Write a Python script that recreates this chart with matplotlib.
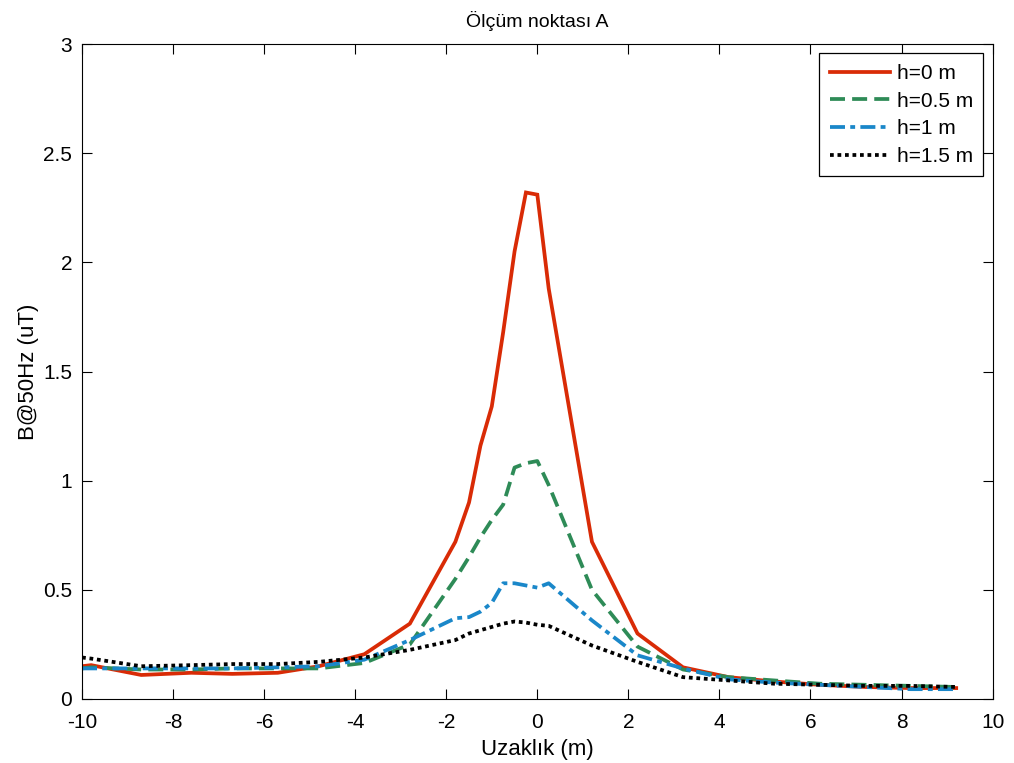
import numpy as np
import matplotlib
matplotlib.use("Agg")
import matplotlib.pyplot as plt
from matplotlib.ticker import FormatStrFormatter

plt.rcParams['font.family'] = ['Liberation Sans', 'DejaVu Sans']
plt.rcParams['axes.unicode_minus'] = False

# distance (m)
x = [-10, -9.8, -8.7, -7.6, -6.7, -5.7, -4.8, -3.8, -2.8, -1.8, -1.5, -1.25,
     -1.0, -0.75, -0.5, -0.25, 0.0, 0.25, 1.2, 2.2, 3.2, 4.2, 5.2, 6.2, 7.2,
     8.2, 9.2]

# B@50Hz (uT) for each height
b_h0 = [0.15, 0.155, 0.11, 0.12, 0.115, 0.12, 0.15, 0.205, 0.345, 0.72, 0.9,
        1.16, 1.34, 1.68, 2.05, 2.32, 2.31, 1.88, 0.72, 0.30, 0.145, 0.10,
        0.08, 0.065, 0.055, 0.05, 0.05]
b_h05 = [0.14, 0.145, 0.135, 0.135, 0.14, 0.14, 0.14, 0.165, 0.25, 0.55,
         0.65, 0.74, 0.82, 0.89, 1.06, 1.08, 1.09, 0.98, 0.50, 0.24, 0.135,
         0.10, 0.085, 0.07, 0.065, 0.06, 0.055]
b_h1 = [0.14, 0.14, 0.14, 0.14, 0.14, 0.145, 0.15, 0.18, 0.27, 0.37, 0.375,
        0.40, 0.44, 0.53, 0.53, 0.52, 0.51, 0.53, 0.36, 0.20, 0.14, 0.09,
        0.075, 0.065, 0.055, 0.045, 0.045]
b_h15 = [0.19, 0.185, 0.15, 0.155, 0.16, 0.16, 0.17, 0.19, 0.225, 0.27, 0.30,
         0.315, 0.33, 0.345, 0.355, 0.35, 0.34, 0.335, 0.245, 0.17, 0.10,
         0.085, 0.07, 0.065, 0.06, 0.06, 0.055]

labels = ['h=0 m', 'h=0.5 m', 'h=1 m', 'h=1.5 m']

fig = plt.figure(figsize=(10.14, 7.63), dpi=100)
ax = fig.add_axes([0.0809, 0.0839, 0.898, 0.8584])

lw = 2.7
kw = dict(lw=lw, dash_capstyle='butt', solid_joinstyle='miter')
ax.plot(x, b_h0, color='#d92b06', linestyle='-', label=labels[0], **kw)
ax.plot(x, b_h05, color='#2e8b57', linestyle=(0, (4, 1.9)), label=labels[1], **kw)
ax.plot(x, b_h1, color='#1a87c9', linestyle=(0, (4, 1.4, 1.3, 1.4)), label=labels[2], **kw)
ax.plot(x, b_h15, color='black', linestyle=(0, (1, 1)), label=labels[3], **kw)

ax.set_xlim(-10, 10)
ax.set_ylim(0, 3)
ax.set_xticks(np.arange(-10, 11, 2))
ax.set_yticks(np.arange(0, 3.01, 0.5))
ax.yaxis.set_major_formatter(FormatStrFormatter('%g'))
ax.tick_params(direction='in', top=True, right=True, labelsize=15, length=7)
ax.tick_params(axis='x', pad=10)
ax.tick_params(axis='y', pad=7)

ax.set_title('Ölçüm noktası A', fontsize=14, pad=12)
ax.set_xlabel('Uzaklık (m)', fontsize=16, labelpad=5)
ax.set_ylabel('B@50Hz (uT)', fontsize=16, labelpad=3)

leg = ax.legend(loc='upper right', fontsize=15, fancybox=False, framealpha=1,
                edgecolor='black', handlelength=2.9, handletextpad=0.3,
                borderaxespad=0.45, labelspacing=0.42, borderpad=0.5)
leg.get_frame().set_linewidth(0.9)

fig.savefig('out.png', dpi=100)
